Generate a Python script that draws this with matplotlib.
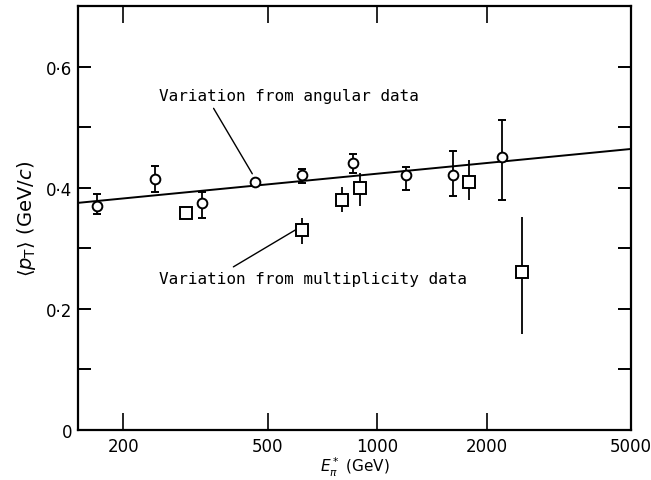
import numpy as np
import matplotlib.pyplot as plt
from matplotlib.ticker import FixedLocator, FixedFormatter, NullLocator

# circles: values from angular data
ang_e = [169, 245, 330, 462, 620, 858, 1200, 1620, 2200]
ang_pt = [0.370, 0.415, 0.374, 0.410, 0.421, 0.440, 0.421, 0.421, 0.451]
ang_lo = [0.357, 0.393, 0.350, 0.410, 0.407, 0.425, 0.397, 0.387, 0.380]
ang_hi = [0.390, 0.436, 0.393, 0.410, 0.431, 0.455, 0.435, 0.460, 0.512]

# squares: values from multiplicity data
mul_e = [298, 620, 800, 898, 1790, 2500]
mul_pt = [0.359, 0.331, 0.380, 0.400, 0.410, 0.261]
mul_lo = [0.359, 0.307, 0.360, 0.370, 0.379, 0.159]
mul_hi = [0.359, 0.350, 0.402, 0.425, 0.445, 0.352]

# fitted line (angular data)
line_e = [150, 5000]
line_pt = [0.375, 0.464]

xticks = [200, 500, 1000, 2000, 5000]
yticks = [0, 0.2, 0.4, 0.6]
ylabels = ['0', '0·2', '0·4', '0·6']

plt.rcParams['font.family'] = 'DejaVu Sans'

fig = plt.figure(figsize=(6.51, 4.81), dpi=100)
ax = fig.add_axes([0.1198, 0.1040, 0.8495, 0.8814])

ax.plot(line_e, line_pt, color='black', lw=1.4, zorder=1)

ang_err = [np.array(ang_pt) - np.array(ang_lo), np.array(ang_hi) - np.array(ang_pt)]
ax.errorbar(ang_e, ang_pt, yerr=ang_err, fmt='o', ms=7, mfc='white', mec='black',
            mew=1.4, ecolor='black', elinewidth=1.3, capsize=3, capthick=1.3, zorder=3)

mul_err = [np.array(mul_pt) - np.array(mul_lo), np.array(mul_hi) - np.array(mul_pt)]
ax.errorbar(mul_e, mul_pt, yerr=mul_err, fmt='s', ms=8, mfc='white', mec='black',
            mew=1.4, ecolor='black', elinewidth=1.3, capsize=0, zorder=3)

ax.set_xscale('log')
ax.set_xlim(150, 5000)
ax.set_ylim(0, 0.7)

ax.xaxis.set_major_locator(FixedLocator(xticks))
ax.xaxis.set_major_formatter(FixedFormatter([str(v) for v in xticks]))
ax.xaxis.set_minor_locator(NullLocator())
ax.yaxis.set_major_locator(FixedLocator(yticks))
ax.yaxis.set_major_formatter(FixedFormatter(ylabels))
ax.yaxis.set_minor_locator(FixedLocator([0.1, 0.3, 0.5]))

ax.tick_params(axis='x', which='major', direction='in', length=12, width=1.2,
               top=True, labelsize=12, pad=5)
ax.tick_params(axis='y', which='both', direction='in', length=9.5, width=1.4,
               right=True, labelsize=12, pad=4)
for s in ax.spines.values():
    s.set_linewidth(1.6)

ax.set_xlabel(r'$E^*_\pi$ (GeV)', fontsize=11, labelpad=0)
ax.set_ylabel(r'$\langle p_{\rm T}\rangle$ (GeV/$c$)', fontsize=14, labelpad=6)

ax.annotate('Variation from angular data', xy=(453, 0.423), xytext=(250, 0.552),
            fontsize=11.5, family='DejaVu Sans Mono', ha='left', va='center',
            arrowprops=dict(arrowstyle='-', color='black', lw=1,
                            shrinkA=2, shrinkB=0, relpos=(0.2, 0.0)))
ax.annotate('Variation from multiplicity data', xy=(602, 0.332), xytext=(250, 0.25),
            fontsize=11.5, family='DejaVu Sans Mono', ha='left', va='center',
            arrowprops=dict(arrowstyle='-', color='black', lw=1,
                            shrinkA=2, shrinkB=0, relpos=(0.22, 1.0)))

fig.savefig('out.png', dpi=100)
